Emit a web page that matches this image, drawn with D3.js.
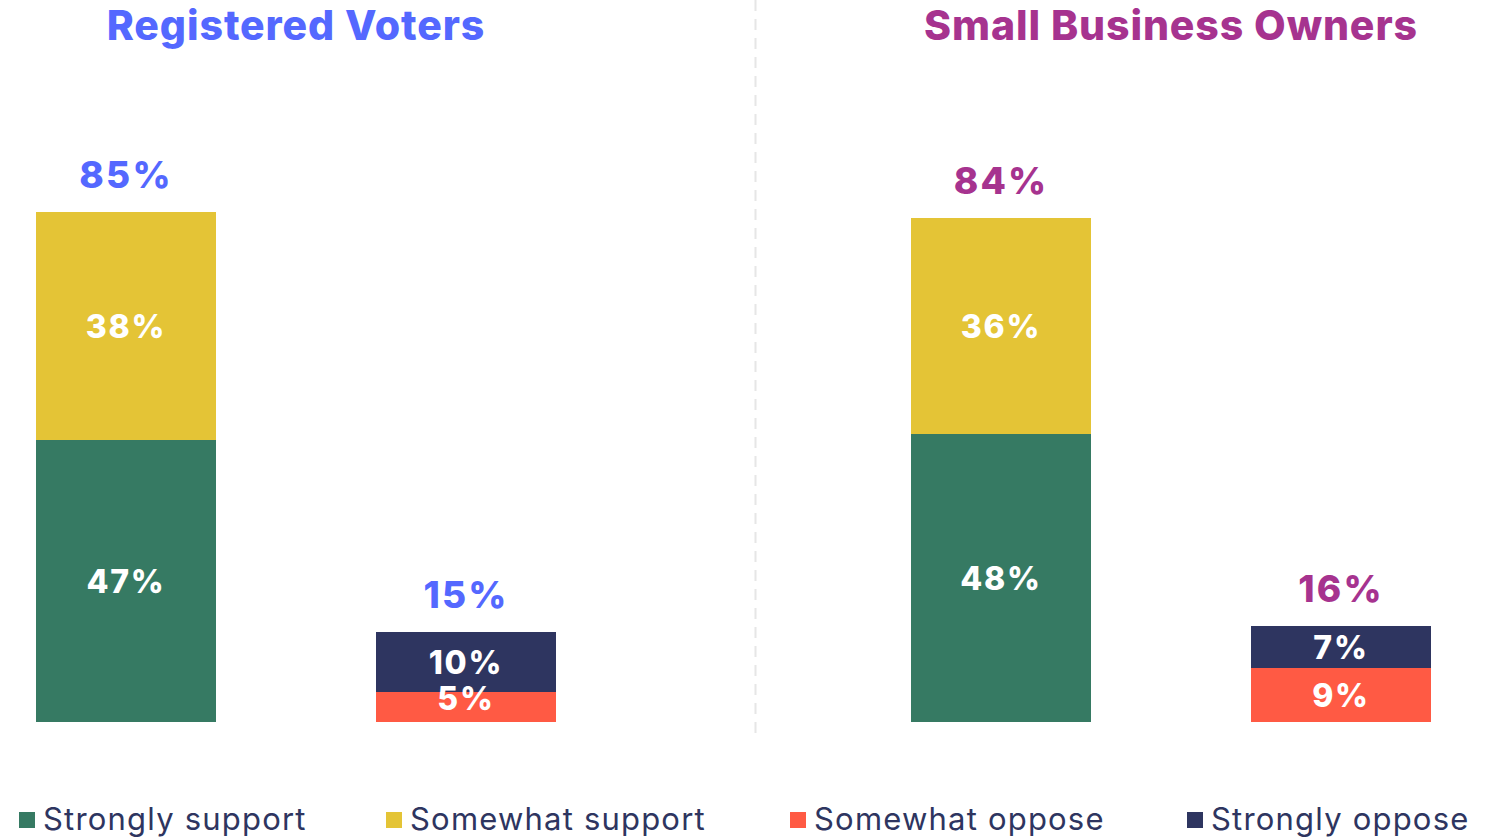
<!DOCTYPE html>
<html>
<head>
<meta http-equiv="Content-type" content="text/html; charset=utf-8">
<title>Support vs oppose</title>
<script src="https://cdn.jsdelivr.net/npm/d3@7"></script>
<style>
  body { margin: 0; background: #fff; }
  svg text { font-family: Inter, "Open Sans", sans-serif; }
</style>
</head>
<body>
<script>
// data
var panels = ["Registered Voters", "Small Business Owners"];
var panelColors = ["#5468ff", "#a6338f"];
var groups = ["Support", "Oppose"];
var series = ["Strongly support", "Somewhat support", "Somewhat oppose", "Strongly oppose"];
var seriesColors = ["#367a63", "#e4c436", "#ff5a44", "#2e3560"];
// values per panel, per series (support group uses first two, oppose group last two)
var voters = [47, 38, 5, 10];
var owners = [48, 36, 9, 7];
var panelValues = [voters, owners];

var W = 1491, H = 837;
var svg = d3.select("body").append("svg").attr("width", W).attr("height", H);

var y = d3.scaleLinear().domain([0, 100]).range([722, 122]);
var panelRanges = [[36, 556], [911, 1431]];

// divider
svg.append("line")
  .attr("x1", 755.5).attr("x2", 755.5).attr("y1", 0).attr("y2", 738)
  .attr("stroke", "#e6e6e6").attr("stroke-width", 2)
  .attr("stroke-dasharray", "11,8");

panels.forEach(function(name, p) {
  var x = d3.scaleBand().domain(groups).range(panelRanges[p])
    .paddingInner(0.4706).paddingOuter(0);
  var vals = panelValues[p];
  var g = svg.append("g");

  g.append("text")
    .attr("x", (panelRanges[p][0] + panelRanges[p][1]) / 2)
    .attr("y", 40)
    .attr("text-anchor", "middle")
    .attr("font-size", 41).attr("font-weight", 800)
    .attr("letter-spacing", 0.9)
    .attr("fill", panelColors[p])
    .text(name);

  groups.forEach(function(grp, gi) {
    var idx = gi == 0 ? [0, 1] : [2, 3];
    var base = 0;
    var segs = idx.map(function(i) {
      var s = {key: series[i], color: seriesColors[i], v: vals[i], y0: base, y1: base + vals[i]};
      base += vals[i];
      return s;
    });

    g.selectAll(null).data(segs).enter().append("rect")
      .attr("x", x(grp))
      .attr("width", x.bandwidth())
      .attr("y", function(d) { return y(d.y1); })
      .attr("height", function(d) { return y(d.y0) - y(d.y1); })
      .attr("fill", function(d) { return d.color; });

    g.selectAll(null).data(segs).enter().append("text")
      .attr("x", x(grp) + x.bandwidth() / 2)
      .attr("y", function(d) {
        var c = (y(d.y0) + y(d.y1)) / 2;
        return Math.min(c, y(0) - 24);
      })
      .attr("dy", "0.36em")
      .attr("text-anchor", "middle")
      .attr("font-size", 32).attr("font-weight", 800)
      .attr("letter-spacing", 1.8)
      .attr("fill", "#fff")
      .text(function(d) { return d.v + "%"; });

    g.append("text")
      .attr("x", x(grp) + x.bandwidth() / 2)
      .attr("y", y(base) - 24)
      .attr("text-anchor", "middle")
      .attr("font-size", 37).attr("font-weight", 800)
      .attr("letter-spacing", 2.2)
      .attr("fill", panelColors[p])
      .text(base + "%");
  });
});

// legend
var legendX = [19, 386, 790, 1187];
var leg = svg.selectAll(".leg").data(series).enter().append("g")
  .attr("class", "leg")
  .attr("transform", function(d, i) { return "translate(" + legendX[i] + ",812)"; });
leg.append("rect").attr("width", 16).attr("height", 16)
  .attr("fill", function(d, i) { return seriesColors[i]; });
leg.append("text").attr("x", 24).attr("y", 18)
  .attr("font-size", 31).attr("fill", "#2e3560")
  .attr("letter-spacing", 1.2)
  .text(function(d) { return d; });
</script>
</body>
</html>
